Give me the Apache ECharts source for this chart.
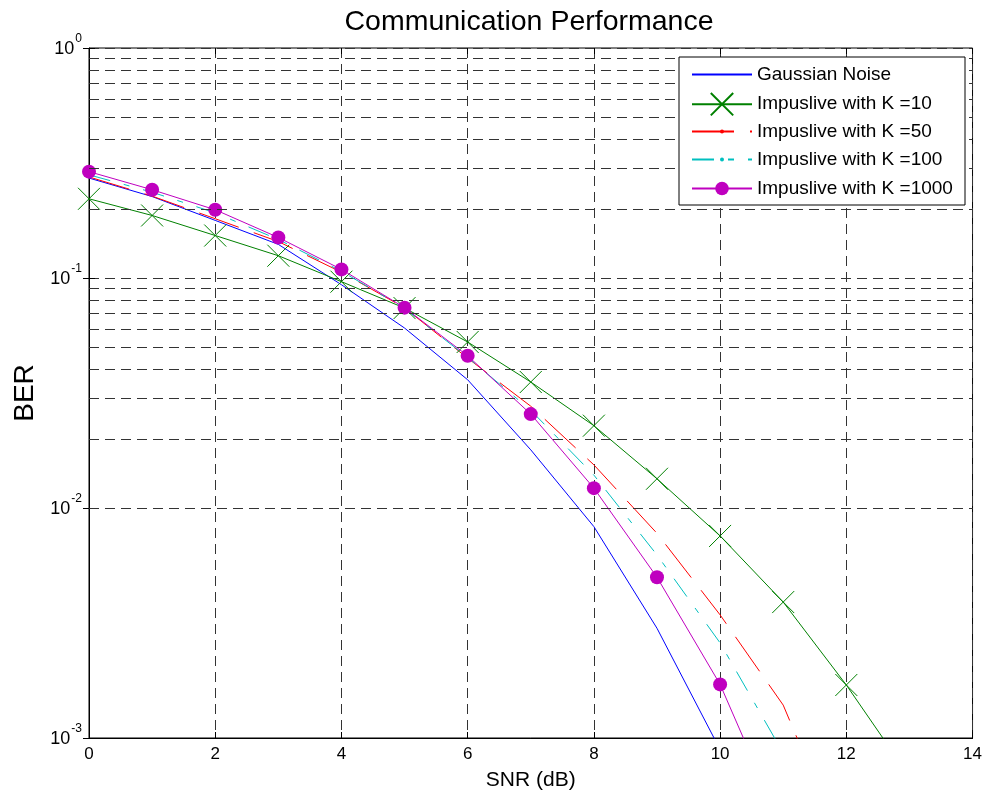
<!DOCTYPE html>
<html>
<head>
<meta charset="utf-8">
<script src="https://cdn.jsdelivr.net/npm/echarts@6/dist/echarts.min.js"></script>
<style>
  html, body { margin: 0; padding: 0; background: #fff; }
  #chart { width: 985px; height: 799px; }
</style>
</head>
<body>
<div id="chart"></div>
<script>
// SNR (dB) 横轴取值
const snr = [0, 1, 2, 3, 4, 5, 6, 7, 8, 9, 10, 11, 12, 13]

// 各曲线 BER 数值
const gaussian = [0.272, 0.226, 0.178, 0.140, 0.0935, 0.0606, 0.0361, 0.0179, 0.0083, 0.0030, 0.00089]
const k10 = [0.221, 0.187, 0.153, 0.125, 0.0964, 0.074, 0.0527, 0.0353, 0.0228, 0.0134, 0.00756, 0.0039, 0.0017, 0.00068]
const k50 = [0.275, 0.227, 0.181, 0.144, 0.106, 0.0742, 0.0448, 0.0277, 0.0154, 0.00776, 0.00343, 0.00139, 0.00031]
const k100 = [0.281, 0.236, 0.192, 0.147, 0.107, 0.0738, 0.0452, 0.0266, 0.0139, 0.00625, 0.00259, 0.00086]
const k1000 = [0.290, 0.242, 0.198, 0.150, 0.109, 0.0743, 0.0459, 0.0256, 0.0122, 0.0050, 0.00171, 0.00040]

const seriesNames = ['Gaussian Noise', 'Impuslive with K =10', 'Impuslive with K =50', 'Impuslive with K =100', 'Impuslive with K =1000']
const seriesColors = ['#0000ff', '#008000', '#ff0000', '#00bfbf', '#bf00bf']

// 对数轴的次网格线 (2..9 × 10^n)
const minorGrid = []
for (let e = -3; e < 0; e++) {
    for (let m = 2; m <= 9; m++) minorGrid.push(m * Math.pow(10, e))
}

const toPairs = (ys) => ys.map((y, i) => [snr[i], y])

const font = 'Liberation Sans, Arial, Helvetica, sans-serif'
const gridDash = { color: '#333', width: 1, type: [10, 6] }
const crossPath = 'path://M0,0L10,10M10,0L0,10'

// 图例：每行一个 legend，这样每行的符号大小可以不同
const legendRowY = [74, 106, 131, 159, 188]
const legendIconH = [14, 28, 5, 5, 17]
const legendTextH = 18
const legends = seriesNames.map((name, i) => ({
    data: [i === 0 ? { name, itemStyle: { opacity: 0 } } : { name }],
    left: 691,
    top: legendRowY[i] - Math.max(legendIconH[i], legendTextH) / 2,
    padding: 0,
    itemWidth: 60,
    itemHeight: legendIconH[i],
    z: 20,
    textStyle: { fontFamily: font, fontSize: 19, color: '#000' }
}))

const chart = echarts.init(document.getElementById('chart'))

chart.setOption({
    animation: false,
    backgroundColor: '#fff',
    textStyle: { fontFamily: font },
    title: {
        text: 'Communication Performance',
        left: 524,
        top: 3,
        textAlign: 'center',
        textStyle: { fontFamily: font, fontSize: 28.5, fontWeight: 'normal', color: '#000' }
    },
    legend: legends,
    graphic: [{
        type: 'rect',
        z: 10,
        shape: { x: 679, y: 57, width: 286, height: 148 },
        style: { fill: '#fff', stroke: '#000', lineWidth: 1 }
    }],
    grid: {
        left: 89, right: 12, top: 48, bottom: 61,
        show: true, borderColor: '#000', borderWidth: 1
    },
    xAxis: [{
        type: 'value',
        min: 0, max: 14, interval: 2,
        name: 'SNR (dB)',
        nameLocation: 'middle',
        nameGap: 32,
        nameTextStyle: { fontFamily: font, fontSize: 21, color: '#000' },
        axisLine: { show: true, lineStyle: { color: '#000' } },
        axisTick: { show: true, inside: true, length: 6, lineStyle: { color: '#000' } },
        axisLabel: { margin: 8, fontSize: 17, color: '#000', fontFamily: font },
        splitLine: { show: true, lineStyle: gridDash }
    }, {
        type: 'value', position: 'top',
        min: 0, max: 14, interval: 2,
        axisLine: { show: false },
        axisTick: { show: true, inside: true, length: 6, lineStyle: { color: '#000' } },
        axisLabel: { show: false },
        splitLine: { show: false }
    }],
    yAxis: [{
        type: 'log',
        logBase: 10,
        min: 0.001, max: 1,
        name: 'BER',
        nameLocation: 'middle',
        nameGap: 50,
        nameTextStyle: { fontFamily: font, fontSize: 28, color: '#000' },
        axisLine: { show: true, lineStyle: { color: '#000' } },
        axisTick: { show: true, inside: true, length: 6, lineStyle: { color: '#000' } },
        axisLabel: {
            margin: 7,
            padding: [3, 0, 0, 0],
            formatter: (v) => '{b|10}{s|' + Math.round(Math.log10(v)) + '}',
            rich: {
                b: { fontSize: 18, lineHeight: 18, verticalAlign: 'bottom', color: '#000', fontFamily: font },
                s: { fontSize: 12, lineHeight: 12, padding: [0, 0, 14, 1], verticalAlign: 'bottom', color: '#000', fontFamily: font }
            }
        },
        splitLine: { show: true, lineStyle: gridDash }
    }, {
        type: 'log', logBase: 10, position: 'right',
        min: 0.001, max: 1,
        axisLine: { show: false },
        axisTick: { show: true, inside: true, length: 6, lineStyle: { color: '#000' } },
        axisLabel: { show: false },
        splitLine: { show: false }
    }],
    series: [
        {
            // 次网格线
            type: 'line', data: [], silent: true, z: 1,
            markLine: {
                silent: true, symbol: 'none', label: { show: false },
                lineStyle: gridDash,
                data: minorGrid.map(v => ({ yAxis: v }))
            }
        },
        {
            name: seriesNames[0], type: 'line', z: 3,
            data: toPairs(gaussian),
            symbol: 'none',
            lineStyle: { color: seriesColors[0], width: 1 },
            itemStyle: { color: seriesColors[0] }
        },
        {
            name: seriesNames[1], type: 'line', z: 3,
            data: toPairs(k10),
            symbol: crossPath, symbolSize: 22,
            lineStyle: { color: seriesColors[1], width: 1 },
            itemStyle: { color: 'rgba(0,0,0,0)', borderColor: seriesColors[1], borderWidth: 1 }
        },
        {
            name: seriesNames[2], type: 'line', z: 3,
            data: toPairs(k50),
            symbol: 'circle', symbolSize: 3, showSymbol: false,
            lineStyle: { color: seriesColors[2], width: 1, type: [42, 16] },
            itemStyle: { color: seriesColors[2] }
        },
        {
            name: seriesNames[3], type: 'line', z: 3,
            data: toPairs(k100),
            symbol: 'circle', symbolSize: 3, showSymbol: false,
            lineStyle: { color: seriesColors[3], width: 1, type: [22, 14, 6, 14] },
            itemStyle: { color: seriesColors[3] }
        },
        {
            name: seriesNames[4], type: 'line', z: 4,
            data: toPairs(k1000),
            symbol: 'circle', symbolSize: 14,
            lineStyle: { color: seriesColors[4], width: 1 },
            itemStyle: { color: seriesColors[4] }
        }
    ]
})
</script>
</body>
</html>
